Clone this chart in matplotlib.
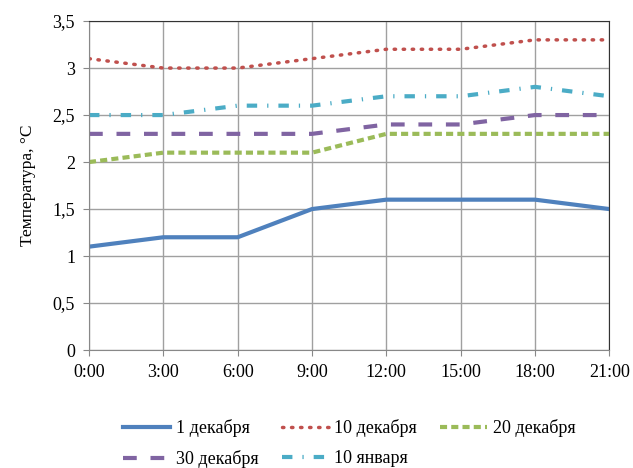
import matplotlib
matplotlib.use("Agg")
import matplotlib.pyplot as plt

plt.rcParams['font.family'] = ['Liberation Serif', 'DejaVu Serif']

hours = ["0:00", "3:00", "6:00", "9:00", "12:00", "15:00", "18:00", "21:00"]
dec1 = [1.1, 1.2, 1.2, 1.5, 1.6, 1.6, 1.6, 1.5]
dec10 = [3.1, 3.0, 3.0, 3.1, 3.2, 3.2, 3.3, 3.3]
dec20 = [2.0, 2.1, 2.1, 2.1, 2.3, 2.3, 2.3, 2.3]
dec30 = [2.3, 2.3, 2.3, 2.3, 2.4, 2.4, 2.5, 2.5]
jan10 = [2.5, 2.5, 2.6, 2.6, 2.7, 2.7, 2.8, 2.7]
names = ["1 декабря", "10 декабря", "20 декабря", "30 декабря", "10 января"]

fig = plt.figure(figsize=(6.33, 4.68), dpi=100)
ax = fig.add_axes([0.1406, 0.252, 0.822, 0.703])

x = range(len(hours))
l1, = ax.plot(x, dec1, color="#4F81BD", lw=3, label=names[0])
l2, = ax.plot(x, dec10, color="#C0504D", lw=2.5, ls=(0, (0.4, 2.2)), dash_capstyle="round", label=names[1])
l3, = ax.plot(x, dec20, color="#9BBB59", lw=3, ls=(0, (1.7, 1.0)), label=names[2])
l4, = ax.plot(x, dec30, color="#8064A2", lw=3, ls=(0, (3.3, 3.3)), label=names[3])
l5, = ax.plot(x, jan10, color="#4BACC6", lw=3, ls=(0, (2.5, 2.4, 0.3, 2.4)), label=names[4])

ax.set_xlim(0, len(hours) - 1)
ax.set_ylim(0, 3.5)
ax.set_xticks(list(x))
ax.set_xticklabels(hours)
yt = [0, 0.5, 1, 1.5, 2, 2.5, 3, 3.5]
ax.set_yticks(yt)
ax.set_yticklabels([str(v).replace(".", ",").replace(",0", "") for v in yt])
ax.tick_params(labelsize=13, length=4, color="#888888", pad=6)
ax.grid(True, color="#a0a0a0", lw=1)
ax.set_axisbelow(True)
for s in ["left", "bottom"]:
    ax.spines[s].set_color("#888888")
for s in ["top", "right"]:
    ax.spines[s].set_color("#333333")
ax.set_ylabel("Температура, °C", fontsize=12.5, labelpad=12)

# order so rows read 1,10,20 / 30, 10 jan
handles = [l1, l4, l2, l5, l3]
ax.legend(handles, [h.get_label() for h in handles],
          loc="upper center", bbox_to_anchor=(0.5, -0.16), ncol=3, frameon=False,
          fontsize=13, handlelength=2.6, handletextpad=0.3, columnspacing=1.3,
          labelspacing=0.75)

fig.savefig("out.png", dpi=100)
